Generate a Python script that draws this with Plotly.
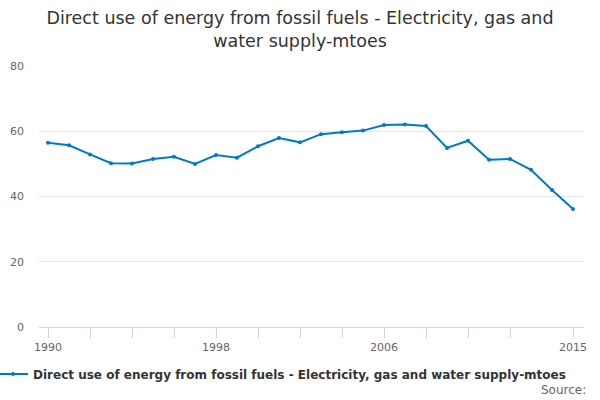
import plotly.graph_objects as go

years = list(range(1990, 2016))
values = [56.5, 55.7, 52.9, 50.2, 50.1, 51.5, 52.2, 50.0, 52.7, 51.9, 55.4, 57.9, 56.6,
          59.1, 59.7, 60.2, 61.9, 62.1, 61.6, 54.9, 57.1, 51.3, 51.5, 48.2, 42.0, 36.2]
tick_years = [1990, 1992, 1994, 1996, 1998, 2000, 2002, 2004, 2006, 2008, 2010, 2012, 2015]
tick_labels = ["1990", "", "", "", "1998", "", "", "", "2006", "", "", "", "2015"]
y_ticks = [0, 20, 40, 60, 80]

series_name = "Direct use of energy from fossil fuels - Electricity, gas and water supply-mtoes"
color = "#007ac3"

fig = go.Figure()
fig.add_trace(go.Scatter(
    x=years, y=values, mode="lines+markers", name=series_name,
    line=dict(color=color, width=2), marker=dict(color=color, size=4),
    showlegend=True,
))

fig.update_layout(
    width=600, height=400,
    margin=dict(l=39, r=16, t=66, b=73, autoexpand=False),
    paper_bgcolor="white", plot_bgcolor="white",
    font=dict(family="DejaVu Sans", color="#333333"),
    title=dict(
        text="Direct use of energy from fossil fuels - Electricity, gas and<br>water supply-mtoes",
        x=0.5, xanchor="center", xref="container",
        y=0.94, yanchor="top", yref="container",
        font=dict(size=17.5, color="#333333", family="DejaVu Sans"),
    ),
    xaxis=dict(
        range=[1989.571, 2015.524], tickmode="array",
        tickvals=tick_years, ticktext=tick_labels,
        ticks="outside", ticklen=10, tickcolor="#ccd6eb", tickwidth=1,
        showline=True, linecolor="#ccd6eb", linewidth=1,
        showgrid=False, zeroline=False, automargin=False,
        tickfont=dict(size=11, color="#666666"),
    ),
    yaxis=dict(
        range=[0, 80], tickmode="array", tickvals=y_ticks,
        showgrid=True, gridcolor="#e6e6e6", gridwidth=1,
        zeroline=False, showline=False, automargin=False,
        ticks="", ticklabelstandoff=14,
        tickfont=dict(size=11, color="#666666"),
    ),
    legend=dict(
        orientation="h", xref="paper", yref="container",
        x=-0.0844, xanchor="left", y=0.065, yanchor="middle",
        font=dict(size=12, color="#333333", family="DejaVu Sans", weight="bold"),
        itemwidth=30,
    ),
    annotations=[dict(
        text="Source:", xref="paper", yref="paper",
        x=(588 - 39) / 545, xanchor="right", y=-(390 - 327) / 261, yanchor="middle",
        showarrow=False, font=dict(size=12, color="#666666"),
    )],
)

fig.write_html("out.html", config={"displayModeBar": False},
               post_script="document.body.style.margin='0';")
